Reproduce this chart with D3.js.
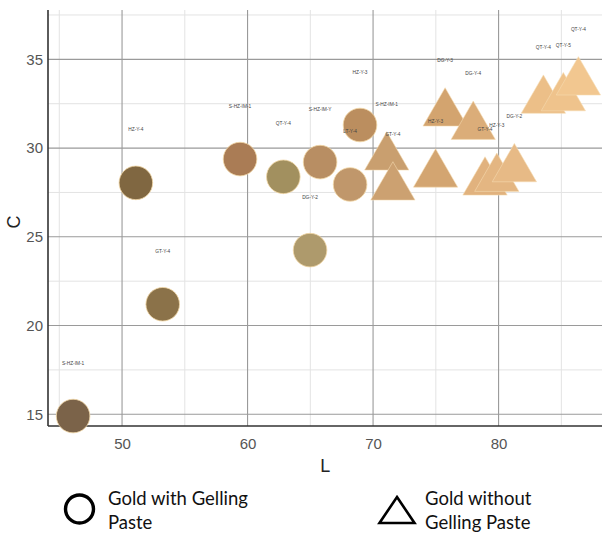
<!DOCTYPE html>
<html>
<head>
<meta charset="utf-8">
<script src="https://cdn.jsdelivr.net/npm/d3@7"></script>
<style>
  html, body { margin: 0; padding: 0; background: #fff; }
  svg { display: block; }
</style>
</head>
<body>
<svg id="chart" width="603" height="534"></svg>
<script>
// Samples with gelling paste (circles)
const pasteLabels = ["S-HZ-IM-1", "HZ-Y-4", "GT-Y-4", "S-HZ-IM-1", "QT-Y-4", "S-HZ-IM-Y", "LT-Y-4", "HZ-Y-3", "DG-Y-2"];
const pasteL = [46.1, 51.1, 53.24, 59.4, 62.85, 65.78, 68.17, 68.96, 64.98];
const pasteC = [14.9, 28.04, 21.2, 29.38, 28.38, 29.21, 27.95, 31.3, 24.25];
const pasteColors = ["#7b6349", "#806741", "#8b7249", "#aa7c55", "#a2905f", "#b88e63", "#c0976b", "#bb8e5f", "#ae9a6c"];

// Samples without gelling paste (triangles)
const plainLabels = ["S-HZ-IM-1", "GT-Y-4", "HZ-Y-3", "DG-Y-3", "DG-Y-4", "GT-Y-4", "HZ-Y-3", "DG-Y-2", "QT-Y-4", "QT-Y-5", "QT-Y-4"];
const plainL = [71.09, 71.58, 74.98, 75.74, 77.98, 78.92, 79.86, 81.26, 83.57, 85.16, 86.36];
const plainC = [29.48, 27.79, 28.52, 31.96, 31.21, 28.07, 28.28, 28.82, 32.68, 32.82, 33.71];
const plainColors = ["#c99f6f", "#cca171", "#d3a571", "#d3a46f", "#dbad79", "#e1b27e", "#e4b682", "#e7ba86", "#ecbf88", "#efc38c", "#f2c790"];

const xMajor = [50, 60, 70, 80];
const xMinor = [45, 55, 65, 75, 85];
const yMajor = [15, 20, 25, 30, 35];
const yMinor = [17.5, 22.5, 27.5, 32.5, 37.5];

const svg = d3.select("#chart");
const font = "'Liberation Sans', Arial, sans-serif";
const legendFont = "Lato, 'Open Sans', sans-serif";
const plot = { left: 48, right: 602, top: 10, bottom: 426 };

const x = d3.scaleLinear().domain([44.1, 88.24]).range([plot.left, plot.right]);
const y = d3.scaleLinear().domain([14.34, 37.78]).range([plot.bottom, plot.top]);

// grid
const grid = svg.append("g");
grid.selectAll("line.xmin").data(xMinor).join("line")
  .attr("x1", d => x(d)).attr("x2", d => x(d))
  .attr("y1", plot.top).attr("y2", plot.bottom)
  .attr("stroke", "#e3e3e3").attr("stroke-width", 1);
grid.selectAll("line.ymin").data(yMinor).join("line")
  .attr("x1", plot.left).attr("x2", plot.right)
  .attr("y1", d => y(d)).attr("y2", d => y(d))
  .attr("stroke", "#e3e3e3").attr("stroke-width", 1);
grid.selectAll("line.xmaj").data(xMajor).join("line")
  .attr("x1", d => x(d)).attr("x2", d => x(d))
  .attr("y1", plot.top).attr("y2", plot.bottom)
  .attr("stroke", "#9a9a9a").attr("stroke-width", 1.1);
grid.selectAll("line.ymaj").data(yMajor).join("line")
  .attr("x1", plot.left).attr("x2", plot.right)
  .attr("y1", d => y(d)).attr("y2", d => y(d))
  .attr("stroke", "#9a9a9a").attr("stroke-width", 1.1);

// axes
const xAxis = d3.axisBottom(x).tickValues(xMajor).tickSize(0).tickPadding(12);
const gx = svg.append("g").attr("transform", `translate(0,${plot.bottom})`).call(xAxis);
gx.select(".domain").remove();
gx.selectAll("text").attr("font-family", font).attr("font-size", 15).attr("fill", "#555");

const yAxis = d3.axisLeft(y).tickValues(yMajor).tickSize(0).tickPadding(5);
const gy = svg.append("g").attr("transform", `translate(${plot.left},0)`).call(yAxis);
gy.select(".domain").remove();
gy.selectAll("text").attr("font-family", font).attr("font-size", 15).attr("fill", "#555");

svg.append("line").attr("x1", plot.left).attr("x2", plot.right)
  .attr("y1", plot.bottom).attr("y2", plot.bottom)
  .attr("stroke", "#333").attr("stroke-width", 1.6);
svg.append("line").attr("x1", plot.left).attr("x2", plot.left)
  .attr("y1", plot.top).attr("y2", plot.bottom)
  .attr("stroke", "#333").attr("stroke-width", 1.6);

// axis titles
svg.append("text").attr("x", x(66.2)).attr("y", 472)
  .attr("text-anchor", "middle").attr("font-family", font).attr("font-size", 18)
  .attr("fill", "#222").text("L");
svg.append("text").attr("transform", "translate(20,222) rotate(-90)")
  .attr("text-anchor", "middle").attr("font-family", font).attr("font-size", 18)
  .attr("fill", "#222").text("C");

const paste = pasteL.map((L, i) => ({ L, C: pasteC[i], color: pasteColors[i], label: pasteLabels[i] }));
const plain = plainL.map((L, i) => ({ L, C: plainC[i], color: plainColors[i], label: plainLabels[i] }));

const marks = svg.append("g");
marks.selectAll("circle").data(paste).join("circle")
  .attr("cx", d => x(d.L)).attr("cy", d => y(d.C)).attr("r", 16.8)
  .attr("fill", d => d.color)
  .attr("stroke", "#f3d8a8").attr("stroke-width", 1).attr("stroke-opacity", 0.8);

const tri = d3.symbol().type(d3.symbolTriangle).size(850);
marks.selectAll("path.tri").data(plain).join("path")
  .attr("class", "tri")
  .attr("transform", d => `translate(${x(d.L)},${y(d.C)})`)
  .attr("d", tri)
  .attr("fill", d => d.color)
  .attr("stroke", "#f6dcb4").attr("stroke-width", 0.8).attr("stroke-opacity", 0.7);

// sample names placed 3 units of C above each mark
const labels = svg.append("g");
labels.selectAll("text").data(paste.concat(plain)).join("text")
  .attr("x", d => x(d.L)).attr("y", d => y(d.C + 3) + 1.8)
  .attr("text-anchor", "middle")
  .attr("font-family", font).attr("font-size", 4.8)
  .attr("fill", "#444")
  .text(d => d.label);

// legend
const legend = svg.append("g");
legend.append("circle").attr("cx", 79.5).attr("cy", 509).attr("r", 14)
  .attr("fill", "none").attr("stroke", "#000").attr("stroke-width", 3.4);
legend.append("text").attr("x", 108).attr("y", 505)
  .attr("font-family", legendFont).attr("font-size", 18.5)
  .attr("fill", "#111").text("Gold with Gelling");
legend.append("text").attr("x", 108).attr("y", 529)
  .attr("font-family", legendFont).attr("font-size", 18.5)
  .attr("fill", "#111").text("Paste");

legend.append("path")
  .attr("d", "M397,497 L414.5,523 L379.5,523 Z")
  .attr("fill", "none").attr("stroke", "#000").attr("stroke-width", 2.6)
  .attr("stroke-linejoin", "miter");
legend.append("text").attr("x", 425).attr("y", 505)
  .attr("font-family", legendFont).attr("font-size", 18.5)
  .attr("fill", "#111").text("Gold without");
legend.append("text").attr("x", 425).attr("y", 529)
  .attr("font-family", legendFont).attr("font-size", 18.5)
  .attr("fill", "#111").text("Gelling Paste");
</script>
</body>
</html>
